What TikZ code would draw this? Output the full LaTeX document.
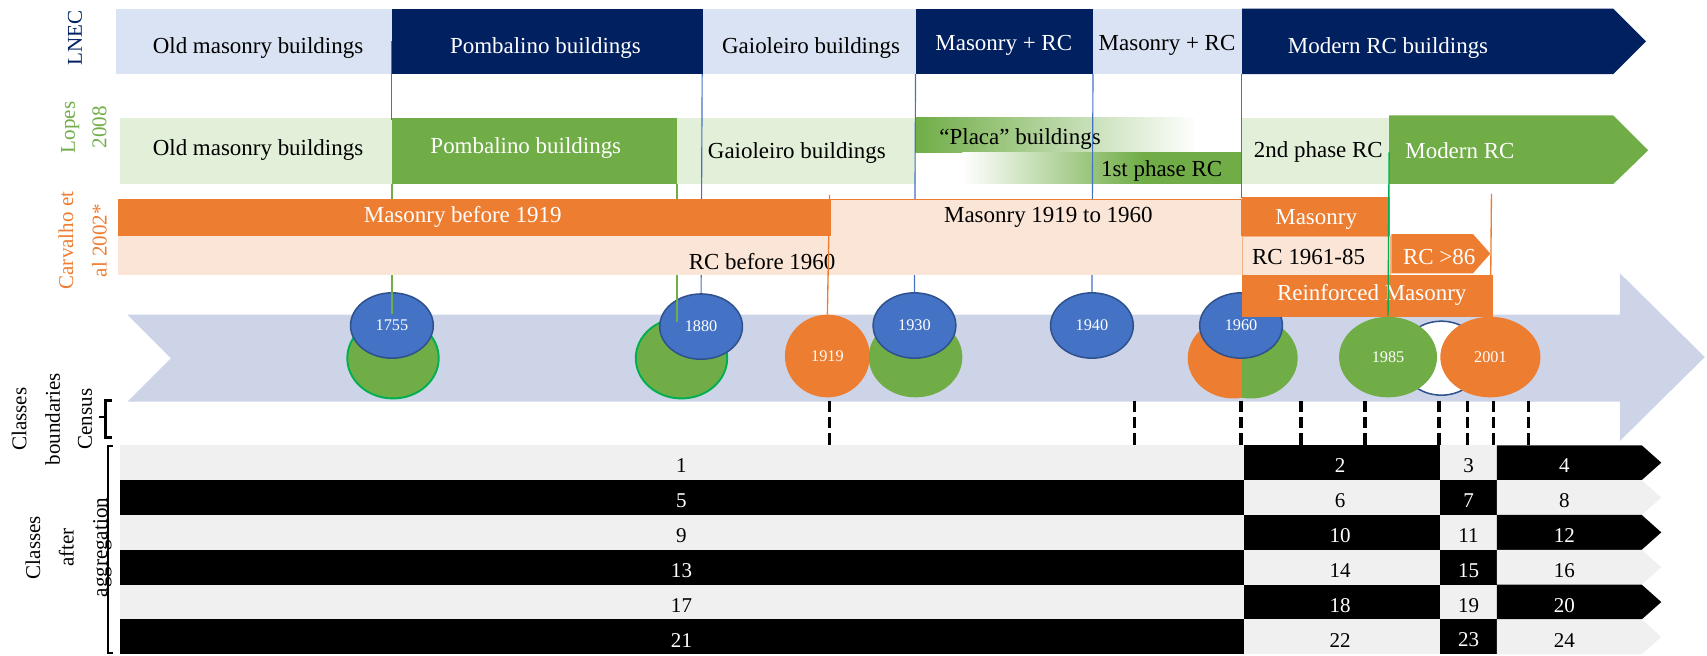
\documentclass[tikz,border=0pt]{standalone}
\usepackage{fontspec}
\setmainfont{Liberation Serif}
\usetikzlibrary{shapes.geometric}
\definecolor{navy}{HTML}{002060}
\definecolor{lblue}{HTML}{DAE3F3}
\definecolor{lgreen}{HTML}{E2F0D9}
\definecolor{mgreen}{HTML}{70AD47}
\definecolor{bgreen}{HTML}{00B050}
\definecolor{orng}{HTML}{ED7D31}
\definecolor{peach}{HTML}{FBE5D6}
\definecolor{cblue}{HTML}{4472C4}
\definecolor{cbluedk}{HTML}{2F528F}
\definecolor{lav}{HTML}{CED4E8}
\definecolor{lgray}{HTML}{F0F0F0}
\begin{document}
\begin{tikzpicture}[x=0.02cm,y=-0.02cm,
  lbl/.style={font=\fontsize{12}{14}\selectfont, inner sep=0pt},
  side/.style={rotate=90, align=center, font=\fontsize{11}{17.5}\selectfont, inner sep=0pt},
  num/.style={font=\fontsize{11}{13}\selectfont, inner sep=0pt},
  yr/.style={ellipse, inner sep=0pt, text=white, font=\fontsize{8.5}{10}\selectfont},
  bcirc/.style={yr, fill=cblue, draw=cbluedk, line width=0.8pt, minimum width=1.52cm, minimum height=1.2cm},
  gcirc/.style={yr, fill=mgreen, minimum width=1.68cm, minimum height=1.48cm},
  ocirc/.style={yr, fill=orng, minimum width=1.56cm, minimum height=1.52cm},
  bline/.style={cblue, line width=0.6pt},
  gline/.style={mgreen, line width=0.7pt},
  oline/.style={orng, line width=0.7pt},
  census/.style={black, line width=1.8pt, dash pattern=on 0.21cm off 0.09cm}
]
\useasboundingbox (0,0) rectangle (1568,602);

% big timeline arrow
\fill[lav] (117,289) -- (1488,289) -- (1488,251) -- (1566,328) -- (1488,405) -- (1488,369) -- (117,369) -- (157,329) -- cycle;

% circles
\node[gcirc, draw=bgreen, line width=1pt] (g1755) at (361,329) {};
\node[bcirc] (b1755) at (360,299) {1755};
\node[gcirc, draw=bgreen, line width=1pt] (g1880) at (626,329) {};
\node[bcirc] (b1880) at (644,300) {1880};
\node[ocirc] (o1919) at (760,327) {1919};
\node[gcirc, minimum width=1.72cm] (g1930) at (841,328) {};
\node[bcirc] (b1930) at (840,299) {1930};
\node[bcirc] (b1940) at (1003,299) {1940};
\begin{scope}
  \clip (1060,280) rectangle (1141,380);
  \fill[orng] (1133,329) ellipse [x radius=42, y radius=37];
\end{scope}
\begin{scope}
  \clip (1141,280) rectangle (1220,380);
  \fill[mgreen] (1149,329) ellipse [x radius=43, y radius=37];
\end{scope}
\node[bcirc] (b1960) at (1140,299) {1960};
\node[yr, fill=white, draw=cbluedk, line width=0.8pt, minimum width=1.52cm, minimum height=1.36cm] (w1993) at (1324,329) {};
\node[gcirc, minimum width=1.8cm] (g1985) at (1275,328) {1985};
\node[ocirc, minimum width=1.84cm, minimum height=1.48cm] (o2001) at (1369,328) {2001};

% LNEC row
\fill[lblue] (107,8) rectangle (360,68);
\fill[navy] (360,8) rectangle (646,68);
\fill[lblue] (646,8) rectangle (841,68);
\fill[navy] (841,8) rectangle (1004,68);
\fill[lblue] (1004,8) rectangle (1141,68);
\fill[navy] (1141,8) -- (1482,8) -- (1512,38) -- (1482,68) -- (1141,68) -- cycle;
\node[lbl] (l1) at (237,44) {Old masonry buildings};
\node[lbl, text=white] (l2) at (501,44) {Pombalino buildings};
\node[lbl] (l3) at (745,44) {Gaioleiro buildings};
\node[lbl, text=white] (l4) at (922,42) {Masonry + RC};
\node[lbl] (l5) at (1072,42) {Masonry + RC};
\node[lbl, text=white] (l6) at (1275,44) {Modern RC buildings};

% Lopes row
\fill[lgreen] (110,108) rectangle (360,169);
\fill[mgreen] (360,108) rectangle (622,169);
\fill[lgreen] (622,108) rectangle (841,169);
\shade[left color=mgreen, middle color=mgreen!60, right color=white] (841,108) rectangle (1100,140);
\shade[left color=white, right color=mgreen] (884,140) rectangle (1050,169);
\fill[mgreen] (1049,140) rectangle (1141,169);
\fill[lgreen] (1141,108) rectangle (1276,169);
\fill[mgreen] (1276,106) -- (1482,106) -- (1514,138) -- (1482,169) -- (1276,169) -- cycle;
\node[lbl] (p1) at (237,138) {Old masonry buildings};
\node[lbl, text=white] (p2) at (483,136) {Pombalino buildings};
\node[lbl] (p3) at (732,141) {Gaioleiro buildings};
\node[lbl] (p4) at (937,128) {``Placa'' buildings};
\node[lbl] (p5) at (1067,157) {1st phase RC};
\node[lbl] (p6) at (1211,140) {2nd phase RC};
\node[lbl, text=white] (p7) at (1341,138) {Modern RC};

% LNEC boundary lines
\coordinate (t360) at (360,38);
\coordinate (e360) at (360,110);
\coordinate (t645) at (645,68);
\coordinate (t843) at (841,68);
\coordinate (t1003) at (1004,68);
\coordinate (t1140) at (1140,68);
\coordinate (e1140) at (1140,182);
\draw[bline] (t360) -- (e360);
\draw[bline] (t645) -- (b1880.north);
\draw[bline] (t843) -- (b1930.north);
\draw[bline] (t1003) -- (b1940.north);
\draw[bline] (t1140) -- (e1140);

% Lopes boundary lines
\coordinate (s360) at (360,169);
\coordinate (s622) at (622,169);
\coordinate (f360) at (360,288);
\coordinate (f622) at (622,296);
\draw[gline] (s360) -- (f360);
\draw[gline] (s622) -- (f622);

% Carvalho row
\fill[orng] (108,183) rectangle (762,217);
\filldraw[fill=peach, draw=orng, line width=0.5pt] (763,183) rectangle (1140,217);
\fill[peach] (108,217) rectangle (1141,253);
\fill[orng] (1141,181) rectangle (1277,217);
\filldraw[fill=peach, draw=orng!60, line width=0.5pt] (1141,217) rectangle (1277,253);
\fill[orng] (1278,215) -- (1353,215) -- (1369,233) -- (1353,251) -- (1278,251) -- cycle;
\fill[orng] (1141,253) rectangle (1371,291);
\node[lbl, text=white] (c1) at (425,199) {Masonry before 1919};
\node[lbl] (c2) at (963,200) {Masonry 1919 to 1960};
\node[lbl, text=white] (c3) at (1209,202) {Masonry};
\node[lbl] (c4) at (700,240) {RC before 1960};
\node[lbl] (c5) at (1202,236) {RC 1961-85};
\node[lbl, text=white] (c6) at (1322,236) {RC >86};
\node[lbl, text=white] (c7) at (1260,271) {Reinforced Masonry};

% Carvalho / late Lopes lines
\coordinate (u762) at (762,179);
\coordinate (u1370) at (1370,178);
\coordinate (u1276) at (1276,140);
\draw[oline] (u762) -- (o1919.north);
\draw[oline] (u1370) -- (o2001.north);
\draw[bgreen, line width=0.7pt] (u1276) -- (g1985.north);

% side labels
\node[side, text=navy] (sl1) at (69,35) {LNEC};
\node[side, text=mgreen, font=\fontsize{11}{16.5}\selectfont] (sl2) at (77,117) {Lopes\\2008};
\node[side, text=orng] (sl3) at (76,221) {Carvalho et\\al 2002*};
\node[side] (sl4) at (33,385) {Classes\\boundaries};
\node[side] (sl5) at (78,385) {Census};
\node[side] (sl6) at (63,503) {Classes\\after\\aggregation};

% brackets
\coordinate (k1a) at (103,368);
\coordinate (k1b) at (97,368);
\coordinate (k1c) at (97,402);
\coordinate (k1d) at (103,402);
\coordinate (k1m) at (97,383);
\coordinate (k1t) at (91,383);
\draw[line width=1.5pt] (k1a) -- (k1b) -- (k1c) -- (k1d);
\draw[line width=1.5pt] (k1m) -- (k1t);
\coordinate (k2a) at (104,410);
\coordinate (k2b) at (99,410);
\coordinate (k2c) at (99,600);
\coordinate (k2d) at (104,600);
\draw[line width=1pt] (k2a) -- (k2b) -- (k2c) -- (k2d);

% census boundaries
\foreach \xx [count=\i] in {762,1042,1140,1195,1254,1322,1348,1372,1404} {
  \coordinate (dt\i) at (\xx,368);
  \coordinate (db\i) at (\xx,409);
  \draw[census] (dt\i) -- (db\i);
}

% classes grid
\foreach \r/\ca/\ta/\cb/\tb in {1/lgray/black/black/white, 2/black/white/lgray/black, 3/lgray/black/black/white, 4/black/white/lgray/black, 5/lgray/black/black/white, 6/black/white/lgray/black} {
  \pgfmathsetmacro\yt{409+32*(\r-1)}
  \pgfmathsetmacro\yb{441+32*(\r-1)}
  \pgfmathsetmacro\ym{425+32*(\r-1)}
  \pgfmathsetmacro\yn{428+32*(\r-1)}
  \pgfmathtruncatemacro\na{4*\r-3}
  \pgfmathtruncatemacro\nb{4*\r-2}
  \pgfmathtruncatemacro\nc{4*\r-1}
  \pgfmathtruncatemacro\nd{4*\r}
  \fill[\ca] (110,\yt) rectangle (1143,\yb);
  \fill[\cb] (1143,\yt) rectangle (1323,\yb);
  \fill[\ca] (1323,\yt) rectangle (1375,\yb);
  \fill[\cb] (1375,\yt) -- (1508,\yt) -- (1526,\ym) -- (1508,\yb) -- (1375,\yb) -- cycle;
  \node[num, text=\ta] (k\na) at (626,\yn) {\na};
  \node[num, text=\tb] (k\nb) at (1231,\yn) {\nb};
  \node[num, text=\ta] (k\nc) at (1349,\yn) {\nc};
  \node[num, text=\tb] (k\nd) at (1437,\yn) {\nd};
}
\end{tikzpicture}
\end{document}
